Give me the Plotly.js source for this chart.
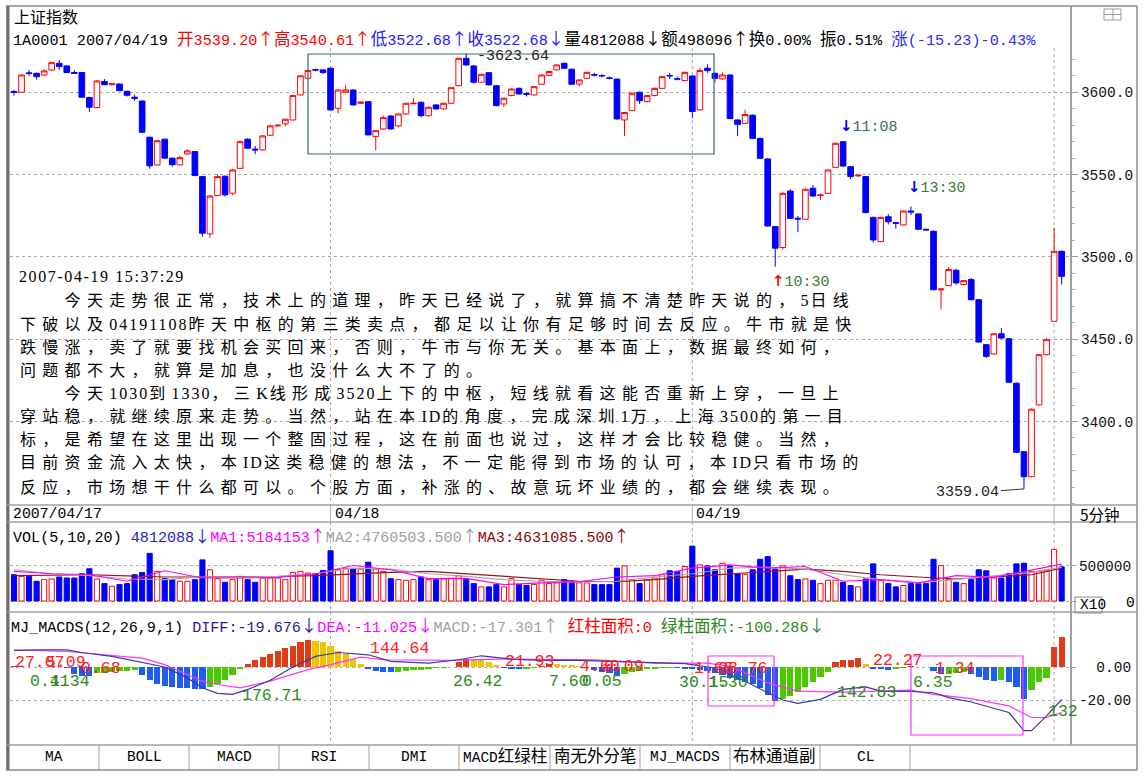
<!DOCTYPE html>
<html><head><meta charset="utf-8">
<script src="https://cdn.plot.ly/plotly-3.0.1.min.js"></script>
<style>html,body{margin:0;padding:0;background:#fff;}#chart{width:1144px;height:779px;}</style>
</head><body><div id="chart"></div>
<script>
// ---------------- DATA ----------------
const open = [3600.5,3600,3611.8,3611.5,3610.5,3613.5,3617.6,3616,3612,3612,
3596.8,3590.7,3606.5,3604.6,3605,3600.6,3597,3594.7,3572.7,3555.9,
3571.5,3560,3555.9,3562.5,3564,3548.8,3514,3537.3,3549,3538.7,
3553.8,3571.5,3565.5,3565,3573.9,3579.6,3580.8,3583.2,3598.4,3608.5,
3613.8,3613.6,3614.6,3590.3,3600,3601.4,3593.3,3594.3,3573.1,3577.7,
3585.6,3579.6,3586.8,3593,3593.9,3585.8,3592.3,3589.9,3593.3,3604,
3620.6,3616,3606.1,3611.9,3604,3592.9,3598,3602.4,3599.2,3598.4,
3604.9,3610.3,3613.6,3617.6,3614,3605,3608.5,3610.7,3610.2,3608.7,
3608,3583.2,3588.9,3600,3594.3,3598,3602.4,3610.2,3608.2,3607.1,
3609.9,3589.3,3614.6,3611.5,3608.1,3610.5,3583.2,3581.1,3586.1,3572,
3559.5,3518.4,3505.7,3540,3523.5,3522.9,3541.7,3537.3,3538.6,3554.4,
3570,3554.8,3549.2,3548.8,3524,3509.3,3524.4,3520.8,3519.4,3527.9,
3526.1,3516.8,3515.6,3480,3482.6,3491.9,3483.2,3486.2,3474,3446.7,
3441,3453.3,3450.3,3423.3,3381.7,3366.5,3410.1,3440.6,3460.9,3503.4];
const high = [3601.5,3611,3613.5,3612,3614,3618.5,3619.6,3616.4,3613.5,3612.4,
3597.3,3607.5,3608,3605.6,3605.5,3601,3598.6,3595,3573,3571,
3571.8,3560.3,3561.5,3565.4,3564.3,3549,3537.4,3550,3549.5,3553.5,
3570.5,3572.1,3567.4,3574,3580.2,3580.4,3584,3598.5,3610.4,3613.6,
3614.4,3614,3615,3601.8,3604.5,3601.8,3594.4,3594.6,3577,3585.8,
3586,3587.2,3593.6,3596.4,3594.3,3591.3,3592.8,3593.7,3603.2,3621,
3623.64,3616.4,3611.3,3612.3,3604.4,3596.8,3602.4,3602.8,3600,3603.8,
3610.9,3613,3617,3618,3614.4,3607.9,3612.5,3611.8,3611,3609.6,
3608.4,3588.1,3599.8,3600.4,3598.4,3602.8,3609.9,3611.8,3609.6,3612.5,
3610.3,3614.6,3617,3612,3612,3610.9,3583.6,3589.5,3586.5,3572.4,
3559.9,3518.8,3539.6,3541,3524.9,3541.5,3543.7,3538.6,3553.2,3569.4,
3570.4,3555.2,3550,3549.2,3524.4,3524.4,3526,3521.2,3528.3,3530.6,
3526.5,3517,3516,3480.8,3493.9,3492.7,3486,3487.2,3474.4,3447.1,
3453.7,3456.8,3450.7,3423.7,3382.1,3407.9,3441,3450.7,3517.6,3503.8];
const low = [3598,3599.6,3610,3607.8,3609.8,3613,3613.6,3612,3611.4,3597,
3588,3590.3,3604.4,3604.2,3600.8,3597.4,3594.9,3575.5,3553.6,3555.5,
3559.8,3555,3555.6,3562.1,3549.2,3512.3,3511.5,3537,3536.7,3537.5,
3553.4,3565.8,3562.5,3564.6,3573.5,3579.2,3579.2,3582.8,3598,3608,
3612.8,3611,3589,3587.2,3599.6,3592,3593,3574,3564.6,3577.1,
3577.2,3578.6,3586.4,3592.8,3584.8,3585.4,3589.5,3589.5,3593,3603.6,
3616.2,3605.3,3605.7,3604.2,3591.5,3591,3597.6,3598.6,3597.4,3598,
3604.5,3609.9,3613.2,3614.2,3604.5,3603.4,3608.1,3609.6,3609,3607.8,
3583.4,3573.5,3588.5,3592.9,3593.9,3597.6,3602,3608,3607.2,3606.7,
3584.2,3588.9,3611.8,3605.9,3607.7,3583.8,3573.5,3580.7,3571.6,3559.5,
3518.4,3494.1,3504.5,3523,3515,3522.5,3536.5,3534.5,3538.2,3554,
3554.8,3547.2,3548.6,3526.5,3508.7,3508.9,3519.7,3517.2,3519,3525.5,
3516.4,3516.2,3479.7,3468,3482.2,3483.2,3482.8,3473.6,3447.9,3438.6,
3440.6,3450.3,3423.5,3380.9,3359.04,3366.1,3409.7,3440.2,3460.5,3483.2];
const close = [3600,3610.5,3611.4,3609.5,3613,3618,3615.6,3612,3611.5,3597,
3590.9,3606.9,3604.6,3605.3,3601,3598.2,3596.4,3575.7,3555.3,3570.6,
3560,3556,3560.3,3564.4,3549.4,3514.4,3537,3548.8,3537.7,3552.8,
3570,3566,3565,3573.5,3579.6,3580,3583.6,3598,3610,3613.2,
3613.5,3612,3589.3,3601.4,3601.4,3592.3,3594,3574.1,3576.7,3584.6,
3577.7,3586.8,3593.3,3593.3,3585.8,3590.9,3589.9,3593.3,3602.8,3620.6,
3616.6,3606.1,3610.9,3604.5,3591.9,3596.4,3602,3599,3598.8,3603.4,
3610.5,3612.6,3616.6,3614.6,3604.9,3607.5,3612.1,3610.5,3610,3608.5,
3583.8,3587.7,3599.4,3594.9,3598,3602.4,3609.5,3610,3608,3612.1,
3588.3,3613.2,3613.2,3608.5,3610.5,3584,3580.5,3586.5,3572,3559.9,
3518.8,3505.3,3538.6,3523.4,3523,3541.1,3537,3537.6,3552.8,3569,
3555.2,3548.8,3549.6,3526.9,3510.3,3524,3521.4,3520.4,3527.9,3527.3,
3516.8,3516.4,3480.1,3480.5,3492.3,3484.2,3485.6,3474,3448.3,3439.6,
3453.3,3450.7,3423.9,3381.3,3366.5,3407.5,3440.6,3449.7,3503.4,3488.2];
// volume in axis units (x10)
const volume = [370000,347000,347000,278000,301000,310000,338000,324000,324000,384000,
454000,310000,245000,208000,231000,245000,370000,400000,671000,417000,
315000,301000,278000,278000,301000,579000,440000,315000,264000,301000,
347000,301000,264000,324000,324000,324000,301000,403000,417000,394000,
384000,431000,708000,440000,463000,449000,449000,546000,449000,417000,
315000,301000,292000,301000,338000,301000,301000,310000,319000,356000,
315000,245000,199000,199000,231000,199000,315000,231000,218000,231000,
292000,245000,255000,301000,278000,255000,255000,231000,231000,231000,
463000,495000,301000,245000,301000,324000,370000,426000,417000,486000,
773000,509000,495000,440000,532000,495000,384000,375000,440000,588000,
625000,449000,495000,356000,301000,310000,292000,245000,292000,292000,
264000,218000,199000,310000,523000,292000,245000,199000,218000,245000,
245000,245000,588000,500000,301000,264000,245000,301000,440000,426000,
324000,324000,384000,523000,532000,417000,417000,431000,727000,481209];
const maIdx  = [0,5,10,15,20,25,30,35,40,45,50,55,60,65,70,75,80,85,90,95,100,105,110,115,120,125,130,135,139];
const volMA1 = [417000,384000,370000,278000,426000,324000,324000,333000,384000,500000,440000,315000,319000,231000,255000,273000,338000,356000,463000,509000,463000,486000,278000,301000,255000,356000,333000,440000,518415];
const volMA2 = [440000,384000,356000,310000,301000,338000,338000,347000,384000,463000,449000,384000,347000,301000,278000,264000,278000,338000,384000,463000,477000,449000,370000,301000,255000,301000,356000,403000,476050];
const volMA3 = [356000,362000,370000,355000,338000,338000,338000,345000,356000,384000,403000,417000,384000,347000,310000,278000,273000,301000,347000,384000,417000,449000,417000,370000,338000,310000,338000,370000,463109];
const macdHist = [0.5,0.3,0.2,-0.3,0.3,0.5,0.3,-0.5,
-4.5,-5.5,-5.6,
-3.8,-3.4,-3,-2.6,-2.2,-2.0,
-5,-8,-10,-11.5,-12.3,-12.8,-13,-13.1,-13.2,
-12,-10,-8,-5,-1.5,
2,4,6,8,10,11.5,13,15,16.3,
16,15,13,10,8,5,2,
-1.5,-2.5,-3,-3.2,
-2.8,-2.4,-2,-1.6,-1.2,-0.9,-0.6,-0.3,
3,5,4.8,4.3,3,1.5,
-0.8,-1.2,-1.5,-1.0,
-0.5,0.8,2,1.8,
1.5,1,0.8,0.3,
-2,-3,-3.5,-4.6,
-4,-3.3,-2.5,-1.5,-1,
-0.6,-0.4,
-0.8,-1,
-1.3,-1.8,-2.5,-3.5,-5,-6.5,-8,-9,-10.5,-13,-17,-20.5,
-19.5,-17.5,-15,-12,-9,-6,-3,
3,4,4.5,5.5,
2,
-1,-1.5,-1.6,-1,-0.5,
0.5,0.3,0.1,
-2.5,-4.5,-4,-3.5,-3,-4.5,-6,-8,-8.5,-8,-9,-12,-19.5,-14,-9,-6.5,12,18.4];
const diffIdx  = [0,3,7,9,13,17,20,23,25,27,29,31,34,37,40,43,47,50,55,59,62,66,70,75,80,85,89,93,97,100,102,104,107,110,113,115,119,122,124,127,129,132,134,135,137,139];
const diffVals = [10,10.4,10.4,8.8,6.4,2.8,0,-6.6,-12.6,-16,-16.6,-13.6,-8,0,6.4,8.8,7.4,3.4,2.4,4.4,6.8,4.8,4,4,3.4,2.8,2,-0.6,-8.6,-15.6,-20,-22,-19.6,-13.6,-12,-14.6,-14.8,-15.6,-18.6,-21.2,-23.6,-27.6,-38.6,-38.6,-29.6,-19.7];
const deaIdx  = [0,7,17,20,25,27,30,34,39,42,46,49,58,64,77,85,92,95,100,104,110,119,122,127,132,135,137,139];
const deaVals = [10.4,9.4,5.4,1.4,-8.6,-10.6,-12.6,-8.6,-1.6,1.4,6,4.4,4,4.8,4.4,2.4,2.4,0.4,-9.6,-14.6,-15.2,-14,-16.6,-19.2,-23.6,-30.6,-30.6,-27.6];
const dayStartIdx = [42, 90, 138];
const dateLabelIdx = [0, 42, 90];
const dateLabels = ['2007/04/17', '04/18', '04/19'];
const priceTicks = [3400, 3450, 3500, 3550, 3600];
const volTicks = [0, 500000];
const volTickText = ['', '500000'];
const macdTicks = [0, -20];
const macdTickText = ['\u00a0\u00a00.00', '-20.00'];
const noteIdx = [101, 110, 119];
const noteText = ['10:30', '11:08', '13:30'];
const tabNames = ['MA','BOLL','MACD','RSI','DMI','MACD红绿柱','南无外分笔','MJ_MACDS','布林通道副','CL'];
const postTime = '2007-04-19 15:37:29';
const postLines = [
'　　今天走势很正常，技术上的道理，昨天已经说了，就算搞不清楚昨天说的，5日线',
'下破以及04191108昨天中枢的第三类卖点，都足以让你有足够时间去反应。牛市就是快',
'跌慢涨，卖了就要找机会买回来，否则，牛市与你无关。基本面上，数据最终如何，',
'问题都不大，就算是加息，也没什么大不了的。',
'　　今天1030到1330，三K线形成3520上下的中枢，短线就看这能否重新上穿，一旦上',
'穿站稳，就继续原来走势。当然，站在本ID的角度，完成深圳1万，上海3500的第一目',
'标，是希望在这里出现一个整固过程，这在前面也说过，这样才会比较稳健。当然，',
'目前资金流入太快，本ID这类稳健的想法，不一定能得到市场的认可，本ID只看市场的',
'反应，市场想干什么都可以。个股方面，补涨的、故意玩坏业绩的，都会继续表现。'];
const macdAreaLabels = [
 ['27.07','r'],['5.09','r'],['0.68','r'],['0.41','g'],['1.34','g'],['176.71','g'],['144.64','r'],
 ['26.42','g'],['21.93','r'],['7.60','g'],['0.05','g'],['4.60','r'],['0.09','r'],['1.65','r'],['38.76','r'],
 ['30.15','g'],['1.30','g'],['142.83','g'],['22.27','r'],['1.34','r'],['6.35','g'],['132','g']];

// ---------------- LAYOUT HELPERS ----------------
const W = 1144, H = 779;
const px = x => x / W, py = y => 1 - y / H;
const MONO = 'Liberation Mono, Noto Sans CJK SC, monospace';
const SERIF = 'Liberation Serif, Noto Sans CJK SC, serif';
const CJK = 'Noto Sans CJK SC, sans-serif';
const RED = '#ff0000', BLUE = '#0000ff';
const idx = open.map((_, i) => i);
const nb = s => s.replace(/ /g, '\u00a0');
function segs(list, cjkSize) {
  return list.map(([t, c]) => nb(t).replace(/([\u2190-\u2193])|([\u3000-\u9fff\uff00-\uffef]+)|([^\u2190-\u2193\u3000-\u9fff\uff00-\uffef]+)/g,
    (m, ar, a, b) => ar ? `<span style="color:${c};font-family:Noto Sans CJK SC;font-size:${cjkSize}px">${ar}</span>`
      : a ? `<span style="color:${c};font-size:${cjkSize}px">${a}</span>` : `<span style="color:${c}">${b}</span>`)).join('');
}
function para(s) {
  return s.replace(/([\x20-\x7E]+)|([^\x20-\x7E]+)/g,
    (m, a, b) => a ? `<span style="letter-spacing:2px">${a}</span>` : `<span style="letter-spacing:6.3px">${b}</span>`);
}
const ann = [];
function T(x, y, text, font, extra) {
  ann.push(Object.assign({xref:'paper', yref:'paper', x:px(x), y:py(y), text, showarrow:false,
    xanchor:'left', yanchor:'middle', font:Object.assign({family:MONO, size:13, color:'#000'}, font||{})}, extra||{}));
}
const shapes = [];
function L(x0, y0, x1, y1, color, width, dash, layer) {
  shapes.push({type:'line', xref:'paper', yref:'paper', x0:px(x0), y0:py(y0), x1:px(x1), y1:py(y1),
    line:{color:color||'#8c8c8c', width:width||1, dash:dash||'solid'}, layer:layer||'above'});
}
function R(x0, y0, x1, y1, color, width) {
  shapes.push({type:'rect', xref:'paper', yref:'paper', x0:px(x0), y0:py(y0), x1:px(x1), y1:py(y1),
    line:{color, width:width||1}, fillcolor:'rgba(0,0,0,0)', layer:'above'});
}

// frame
R(7, 6, 1137, 770, '#8c8c8c', 1.5);
L(8, 6, 8, 770, '#6e6e6e', 3);
L(1071, 6, 1071, 745, '#a0a0a0', 2);
L(7, 505, 1137, 505, '#a0a0a0', 1.5);
L(7, 522, 1137, 522, '#a0a0a0', 1.5);
L(7, 612, 1137, 612, '#a0a0a0', 1.5);
L(7, 745, 1137, 745, '#a0a0a0', 1.5);
// tabs
const tabEdges = [8, 99, 189, 279, 369, 459, 550, 640, 730, 820, 910];
tabEdges.slice(1).forEach(x => L(x, 745, x, 770, '#a0a0a0', 1));
tabNames.forEach((n, k) => {
  ann.push({xref:'paper', yref:'paper', x:px((tabEdges[k] + tabEdges[k+1]) / 2), y:py(757), text:segs([[n,'#000']], 16.5),
    showarrow:false, xanchor:'center', yanchor:'middle', font:{family:MONO, size:14.5, color:'#000'}});
});
// day separators (dotted) through panels
dayStartIdx.forEach(d => {
  [[48, 505], [522, 745]].forEach(([a, b]) => shapes.push({type:'line', xref:'x', yref:'paper', x0:d, x1:d,
    y0:py(a), y1:py(b), line:{color:'#a8a8a8', width:1, dash:'dot'}, layer:'below'}));
  shapes.push({type:'line', xref:'x', yref:'paper', x0:d, x1:d, y0:py(505), y1:py(522),
    line:{color:'#b0b0b0', width:1}, layer:'above'});
});
// boxes drawn by the author
R(308, 54, 714, 154, '#3d6b6b', 1.2);
R(708, 656, 774, 706, '#ff33ff', 1.2);
R(911, 656, 1023, 735, '#ff33ff', 1.2);
// X10 box and top icon
R(1075, 597, 1102, 613, '#8c8c8c', 1);
R(1104, 9, 1121, 20, '#9a9a9a', 1);
L(1104, 14.5, 1121, 14.5, '#9a9a9a', 1);
L(1113, 9, 1113, 20, '#9a9a9a', 1);

// header
T(12, 16, '上证指数', {family:CJK, size:16});
T(11, 38, segs([['1A0001 2007/04/19 ', '#000'], ['开3539.20↑高3540.61↑', '#ff0000'],
  ['低3522.68↑收3522.68↓', '#2020ff'], ['量4812088↓额498096↑换0.00% 振0.51% ', '#000'],
  ['涨(-15.23)-0.43%', '#2a2aff']], 16.5), {size:15.2});
// date strip
dateLabels.forEach((t, k) => ann.push({xref:'x', yref:'paper', x:dateLabelIdx[k], y:py(514), text:t, showarrow:false,
  xanchor:'left', yanchor:'middle', xshift: k === 0 ? -3 : 2, font:{family:MONO, size:14.8, color:'#000'}}));
T(1078, 514, '5分钟', {family:CJK, size:15.5});
// VOL header
T(11, 535, segs([['VOL(5,10,20) ', '#000'], ['4812088↓', '#2424c8'], ['MA1:5184153↑', '#ff00ff'],
  ['MA2:4760503.500↑', '#a0a0a0'], ['MA3:4631085.500↑', '#8b0a0a']], 16), {size:15.1});
T(1078, 605, 'X10', {size:14.5});
T(1124, 603, '0', {size:14.5});
// MACD header
T(9, 625, segs([['MJ_MACDS(12,26,9,1) ', '#000'], ['DIFF:-19.676↓', '#1c1c8c'], ['DEA:-11.025↓', '#ff00ff'],
  ['MACD:-17.301↑', '#a0a0a0'], [' 红柱面积:0', '#ff0000'], [' 绿柱面积:-100.286↓', '#2a8a1e']], 16.5), {size:15.1});
// MACD area labels
const macdLabelPos = [[13,662],[44,662],[79,668],[28,681],[48,681],[240,695],[368,648],[451,681],[503,661],
  [547,681],[580,681],[578,666],[602,666],[692,668],[716,668],[677,682],[706,682],[835,692],[871,660],
  [933,668],[911,682],[1046,711]];
macdAreaLabels.forEach(([t, c], k) => T(macdLabelPos[k][0], macdLabelPos[k][1], t,
  {size:16.5, color: c === 'r' ? '#ff2020' : '#2e8a1e'}));
// post text
T(17, 277, `<span style="letter-spacing:1.6px">${postTime}</span>`, {family:SERIF, size:16});
const lineY = [300, 324, 347, 370, 393, 417, 440, 463, 487];
postLines.forEach((s, k) => T(18, lineY[k], para(s), {family:SERIF, size:16}));

// price annotations from data
const hiI = high.indexOf(Math.max(...high));
const loI = low.indexOf(Math.min(...low));
ann.push({xref:'x', yref:'y', x:hiI, y:high[hiI], text:'-' + high[hiI].toFixed(2), showarrow:false,
  xanchor:'left', yanchor:'middle', xshift:9, yshift:-3, font:{family:MONO, size:15, color:'#222'}});
ann.push({xref:'x', yref:'y', x:loI, y:low[loI], text:low[loI].toFixed(2), showarrow:true, arrowhead:0,
  arrowwidth:1, arrowcolor:'#333', ax:-56, ay:4, standoff:0, font:{family:MONO, size:15, color:'#222'}});
noteIdx.forEach((i, k) => {
  const above = k > 0;
  const arrow = above ? `<span style="color:#0000ff;font-family:DejaVu Sans"><b>↓</b></span>`
                      : `<span style="color:#ff0000;font-family:DejaVu Sans"><b>↑</b></span>`;
  const tc = k === 1 ? '#3a6a6a' : '#3d7a33';
  ann.push({xref:'x', yref:'y', x:i, y: above ? high[i] : low[i], text: arrow + `<span style="color:${tc}">${noteText[k]}</span>`,
    showarrow:false, xanchor:'left', yanchor:'middle', xshift:-5, yshift: above ? (k === 1 ? 15 : 19) : -15,
    font:{family:MONO, size:15}});
});

// ---------------- TRACES ----------------
const isUp = idx.map(i => close[i] >= open[i]);
const histColors = macdHist.map((v, i) => {
  const p = i > 0 ? macdHist[i-1] : 0;
  if (v >= 0) return v >= p ? '#e33a16' : '#f2c400';
  return v <= p ? '#1f5cf2' : '#4ac800';
});
const traces = [
  {type:'candlestick', x:idx, open, high, low, close, xaxis:'x', yaxis:'y', whiskerwidth:0,
   increasing:{line:{color:RED, width:1}, fillcolor:'#ffffff'},
   decreasing:{line:{color:BLUE, width:1}, fillcolor:BLUE}, hoverinfo:'skip'},
  {type:'bar', x:idx, y:volume, xaxis:'x', yaxis:'y2', width:0.68,
   marker:{color:isUp.map(u => u ? '#ffffff' : BLUE), line:{color:isUp.map(u => u ? RED : BLUE), width:1}}},
  {type:'scatter', mode:'lines', x:maIdx, y:volMA3, xaxis:'x', yaxis:'y2', line:{color:'#8b1a1a', width:1.2}},
  {type:'scatter', mode:'lines', x:maIdx, y:volMA2, xaxis:'x', yaxis:'y2', line:{color:'#a8a8a8', width:1.2}},
  {type:'scatter', mode:'lines', x:maIdx, y:volMA1, xaxis:'x', yaxis:'y2', line:{color:'#ff00ff', width:1.2}},
  {type:'bar', x:idx, y:macdHist, xaxis:'x', yaxis:'y3', width:0.82, marker:{color:histColors, line:{width:0}}},
  {type:'scatter', mode:'lines', x:deaIdx, y:deaVals, xaxis:'x', yaxis:'y3', line:{color:'#ff33ff', width:1.2}},
  {type:'scatter', mode:'lines', x:diffIdx, y:diffVals, xaxis:'x', yaxis:'y3', line:{color:'#3a3aa0', width:1.2}}
];

const axFont = {family:MONO, size:14.5, color:'#111'};
const layout = {
  width:W, height:H, margin:{l:0, r:0, t:0, b:0}, paper_bgcolor:'#fff', plot_bgcolor:'#fff',
  showlegend:false, hovermode:false, boxgap:0.25, boxgroupgap:0, bargap:0,
  xaxis:{domain:[px(10), px(1071)], range:[-0.531, 140.24], visible:false, rangeslider:{visible:false}, fixedrange:true},
  yaxis:{domain:[py(504), py(48)], range:[3349.9, 3626.9], side:'right', anchor:'x', tickmode:'array', tickvals:priceTicks,
    tickformat:'.1f', ticks:'outside', ticklen:6, tickcolor:'#999', showgrid:true, gridcolor:'#a8a8a8', griddash:'dot',
    zeroline:false, showline:false, tickfont:axFont, automargin:false,
    minor:{dtick:10, tick0:3400, ticks:'outside', ticklen:3, tickcolor:'#aaa', showgrid:false}},
  yaxis2:{domain:[py(612), py(522)], range:[-154930, 1112676], side:'right', anchor:'x', tickmode:'array',
    tickvals:volTicks, ticktext:volTickText, ticks:'outside', ticklen:4, tickcolor:'#999', showgrid:true, gridcolor:'#b0b0b0',
    griddash:'dot', zeroline:false, tickfont:axFont, automargin:false},
  yaxis3:{domain:[py(745), py(612)], range:[-47.27, 33.33], side:'right', anchor:'x', tickmode:'array',
    tickvals:macdTicks, ticktext:macdTickText, ticks:'outside', ticklen:4, tickcolor:'#999', showgrid:true,
    gridcolor:'#b0b0b0', griddash:'dot', zeroline:false, tickfont:axFont, automargin:false},
  shapes, annotations:ann
};
Plotly.newPlot('chart', traces, layout, {displayModeBar:false, staticPlot:true});
</script></body></html>
